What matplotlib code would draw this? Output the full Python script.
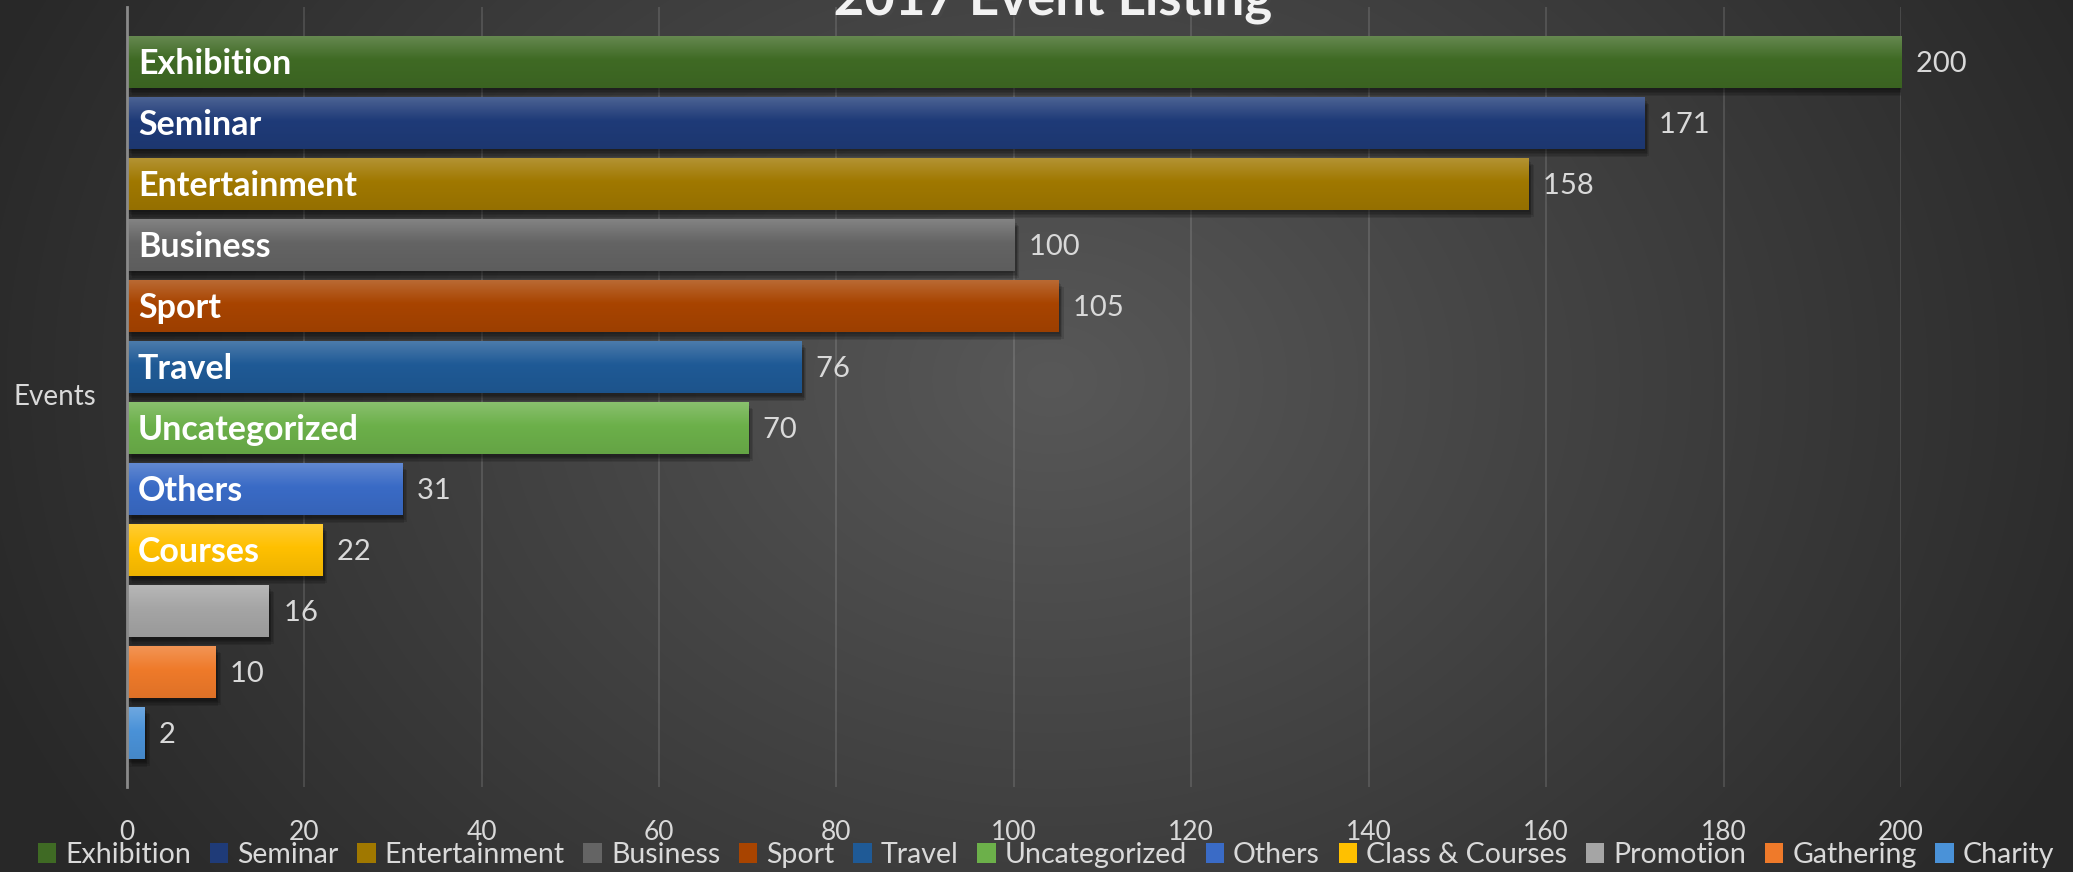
import numpy as np
import matplotlib
matplotlib.use("Agg")
import matplotlib.pyplot as plt
import matplotlib.patheffects as pe
from matplotlib.colors import to_rgb
from matplotlib.patches import Patch

categories = ['Exhibition', 'Seminar', 'Entertainment', 'Business', 'Sport', 'Travel',
              'Uncategorized', 'Others', 'Class & Courses', 'Promotion', 'Gathering', 'Charity']
values = [200, 171, 158, 100, 105, 76, 70, 31, 22, 16, 10, 2]
inner_labels = ['Exhibition', 'Seminar', 'Entertainment', 'Business', 'Sport', 'Travel',
                'Uncategorized', 'Others', 'Courses', '', '', '']
colors = ['#3f6a24', '#1f3b78', '#a07800', '#646464', '#a84400', '#1f5a96',
          '#6cb04a', '#3a6bc6', '#ffc000', '#a5a5a5', '#ef7a2a', '#4a92d8']
xticks = [0, 20, 40, 60, 80, 100, 120, 140, 160, 180, 200]

plt.rcParams['font.family'] = ['Lato', 'DejaVu Sans']
txt = '#d9d9d9'

W, H = 2073, 872
fig = plt.figure(figsize=(W / 100, H / 100), dpi=100)

# background: dark radial gradient
bg = fig.add_axes([0, 0, 1, 1], zorder=-10)
yy, xx = np.mgrid[0:H, 0:W]
r = np.sqrt(((xx - 1050) / 1150.0) ** 2 + ((yy - 380) / 900.0) ** 2)
shade = np.clip(0.345 - 0.19 * r, 0.16, 0.35)
bg.imshow(np.dstack([shade] * 3), aspect='auto', extent=(0, 1, 0, 1))
bg.axis('off')

ax = fig.add_axes([126.7 / W, 1 - 787 / H, (1901 - 126.7) / W, 780 / H])
ax.patch.set_alpha(0)

# soft shadow: a few faint offset copies
shadow = [pe.SimplePatchShadow(offset=(dx, dy), alpha=0.12, shadow_rgbFace='k')
          for dx, dy in [(1, -2), (2, -3), (3, -4), (4, -5), (2, -6)]]
pos = np.arange(len(values))
bars = ax.barh(pos, values, height=0.845, color=colors, zorder=3,
               path_effects=shadow + [pe.Normal()])

# vertical gradient on each bar, lighter at the top
for b, c in zip(bars, colors):
    base = np.array(to_rgb(c))
    top = base + (1 - base) * 0.2
    bot = base * 0.93
    t = np.linspace(0, 1, 64)[:, None]
    grad = np.where(t < 0.45, top + (base - top) * (t / 0.45),
                    base + (bot - base) * ((t - 0.45) / 0.55))
    img = grad[:, None, :].repeat(2, axis=1)
    x0, y0, w, h = b.get_x(), b.get_y(), b.get_width(), b.get_height()
    im = ax.imshow(img, extent=(x0, x0 + w, y0 + h, y0), aspect='auto', zorder=4,
                   interpolation='bilinear')
    im.set_clip_path(b)

for p, v, lab in zip(pos, values, inner_labels):
    ax.text(v, p + 0.03, '  ' + str(v), va='center', ha='left', color=txt, fontsize=21, zorder=6)
    if lab:
        ax.text(1.25, p + 0.03, lab, va='center', ha='left', color='white', fontsize=24.5,
                fontweight='bold', zorder=6)

ax.set_xlim(0, 200)
ax.set_ylim(len(values) - 1 + 0.885, -0.9)
ax.set_xticks(xticks)
ax.set_yticks([])
ax.tick_params(axis='x', length=0, pad=24, labelsize=19, labelcolor=txt)
ax.grid(axis='x', color='white', alpha=0.12, linewidth=1.5, zorder=0)
for s in ['top', 'right', 'bottom']:
    ax.spines[s].set_visible(False)
ax.spines['left'].set_color('#8a8a8a')
ax.spines['left'].set_linewidth(2)
ax.spines['left'].set_zorder(5)

fig.text(13 / W, 1 - 397 / H, 'Events', ha='left', va='center', color=txt, fontsize=20)

fig.text(1053 / W, 1 - 15 / H, '2017 Event Listing', ha='center', va='baseline',
         color='#f2f2f2', fontsize=38, fontweight='bold',
         path_effects=[pe.withSimplePatchShadow(offset=(2, -2), alpha=0.5)])

handles = [Patch(facecolor=c, edgecolor='none') for c in colors]
fig.legend(handles, categories, loc='center', bbox_to_anchor=(1046 / W, 1 - 855 / H),
           ncol=len(categories), frameon=False, fontsize=20.5, labelcolor=txt,
           handlelength=0.65, handleheight=0.65, handletextpad=0.32, columnspacing=0.65,
           borderpad=0, borderaxespad=0)

fig.savefig('out.png', dpi=100)
